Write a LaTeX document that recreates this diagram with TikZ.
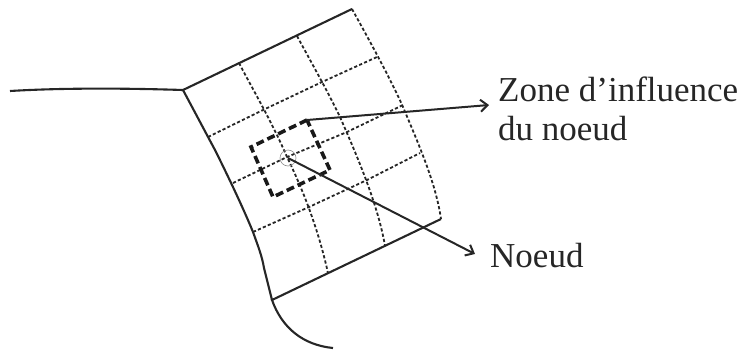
\documentclass[tikz,border=0pt]{standalone}
\usepackage{fontspec}
\setmainfont{Liberation Serif}
\usetikzlibrary{arrows.meta,positioning}
\tikzset{
  wall/.style={black!85,line width=2.1pt},
  meshline/.style={black!85,line width=1.8pt,dash pattern=on 3.2pt off 2.2pt},
  zoneline/.style={black!90,line width=3.6pt,dash pattern=on 8pt off 4pt},
  pointer/.style={black!85,line width=2pt,-{Straight Barb[length=7pt,width=12pt]}},
  caption/.style={black!85,font=\fontsize{35}{40}\selectfont,inner sep=0pt,anchor=base west}
}
\begin{document}
\begin{tikzpicture}[x=1pt,y=-1pt]
  \useasboundingbox (0,0) rectangle (744,349);
  \coordinate (cornerA) at (183,90);
  \coordinate (cornerB) at (352,9);
  \coordinate (cornerC) at (441,219);
  \coordinate (cornerD) at (272,300);
  \coordinate (zoneTip) at (307,120);
  \coordinate (nodePt) at (288,158);
  \coordinate (zoneEnd) at (489,105);
  \coordinate (nodeEnd) at (475,254);
  % walls
  \draw[wall] (10,91) .. controls (60,88) and (120,88) .. (cornerA) -- (cornerB);
  \draw[wall] (cornerA) .. controls (198,118) and (208,137) .. (215,150)
    .. controls (224,168) and (242,205) .. (253,232)
    .. controls (258,246) and (262,256) .. (264,268) -- (cornerD);
  \draw[wall] (cornerC) -- (cornerD) .. controls (282,328) and (303,345) .. (333,348);
  % mesh
  \draw[meshline] (cornerB) .. controls (372,45) and (392,82) .. (403,107)
    .. controls (422,152) and (436,185) .. (cornerC);
  \draw[meshline] (239,63) .. controls (252,88) and (272,122) .. (287,157)
    .. controls (303,190) and (318,228) .. (328,273);
  \draw[meshline] (297,36) .. controls (310,60) and (328,92) .. (340,117)
    .. controls (358,158) and (378,205) .. (385,246);
  \draw[meshline] (208,137) -- (263,110) -- (322,82) -- (377,57);
  \draw[meshline] (233,183) -- (287,157) -- (347,132) -- (403,105);
  \draw[meshline] (253,232) -- (309,207) -- (367,180) -- (420,153);
  % zone
  \draw[zoneline] (zoneTip) -- (251,147) -- (273,197) -- (330,170) -- cycle;
  \node[circle,draw=black!45,line width=0.6pt,minimum size=16pt,inner sep=0pt] (nodeMark) at (nodePt) {};
  % labels
  \node[caption] (zoneLabel) at (498,101) {Zone d’influence};
  \node[caption] (zoneLabelB) at (498,140) {du noeud};
  \node[caption] (nodeLabel) at (490,267) {Noeud};
  \draw[pointer] (zoneTip) -- (zoneEnd);
  \draw[pointer] (nodePt) -- (nodeEnd);
\end{tikzpicture}
\end{document}
